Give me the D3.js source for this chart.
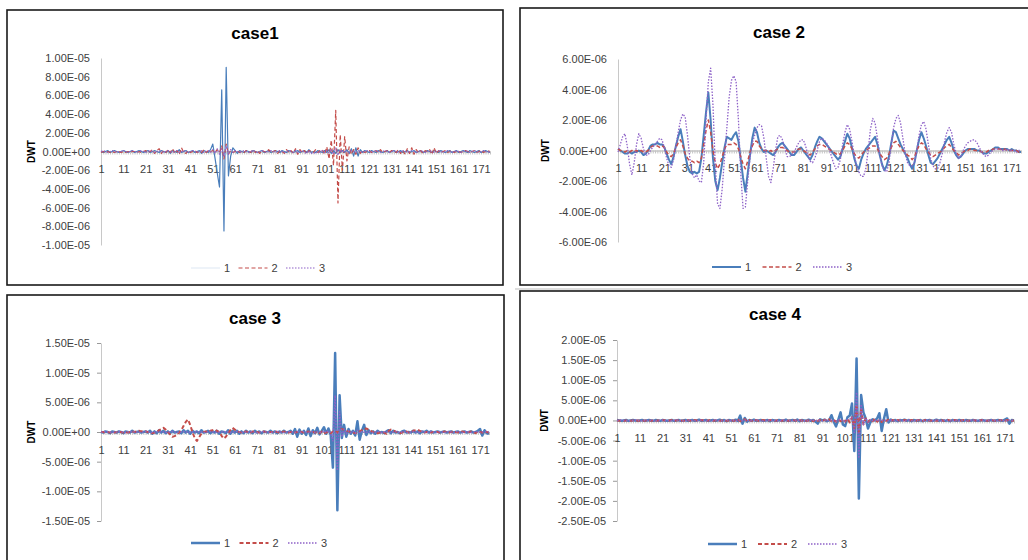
<!DOCTYPE html>
<html>
<head>
<meta charset="utf-8">
<script src="https://cdn.jsdelivr.net/npm/d3@7"></script>
<style>
  body { margin: 0; background: #fff; }
  svg { display: block; font-family: "Liberation Sans", Arial, sans-serif; }
</style>
</head>
<body>
<svg id="chart" width="1028" height="560"></svg>
<script>
// values are stored in units of 1e-7
const UNIT = 1e-7;
const categories = d3.range(1, 176);
const xLabels = categories.filter(d => d % 10 === 1);
const seriesNames = ["1", "2", "3"];
const colors = ["#4a7ebb", "#c44d4a", "#8e62c8"];

// case 1
const c1s1 = [
  0,-1,0,1,-1,0,1,0,-1,0,
  1,0,-1,0,1,-1,0,1,0,-1,
  0,1,-1,0,1,0,-1,1,0,-1,
  1,-2,1,0,-1,2,-1,0,1,-1,
  0,1,-1,0,1,-2,1,0,-1,2,
  8,-7,-23,-38,66,-85,90,-26,-5,4,
  1,-2,1,0,-1,1,0,-1,1,0,
  -1,0,1,-1,0,1,-1,0,1,0,
  -1,1,0,-1,1,0,-1,0,1,-1,
  0,1,-1,2,-1,0,-1,1,0,-1,
  1,-1,2,-2,1,-2,2,-1,1,-1,
  2,-2,3,-5,4,-5,2,-1,1,0,
  -1,1,0,-1,1,0,-1,0,1,-1,
  0,1,-1,0,1,-1,0,1,-1,0,
  1,-1,0,1,-1,0,1,0,-1,1,
  0,-1,1,0,-1,0,1,-1,0,1,
  -1,0,1,0,-1,1,0,-1,0,1,
  -1,0,1,0,-1
];
const c1s2 = [
  -1,0,-1,0,-1,0,-1,0,0,-1,
  0,-1,0,-1,0,0,-1,0,-1,0,
  1,-1,0,2,-2,1,3,-2,1,-1,
  2,-1,3,-2,1,-3,4,-1,-2,1,
  -1,0,1,-1,0,-1,2,-1,1,0,
  1,-1,2,-1,6,-8,8,-3,1,-1,
  0,1,-1,0,-1,1,0,-1,2,-1,
  1,-2,1,0,-1,2,-1,0,1,-2,
  1,0,-2,2,-1,1,-2,3,-3,2,
  -1,1,-2,1,0,-1,2,-1,1,2,
  -3,5,-8,12,-15,44,-55,18,-20,16,
  -10,5,-3,2,-3,4,-2,1,-1,0,
  1,-1,0,1,-1,2,-1,0,1,-1,
  1,0,-1,2,-2,1,-3,3,-2,4,
  -3,2,-1,1,-2,1,0,2,-3,4,
  -2,1,-1,0,1,-1,0,1,-1,0,
  0,-1,0,1,0,-1,0,1,-1,0,
  1,-1,0,1,0
];
const c1s3 = [
  0,1,0,-1,0,1,0,-1,0,0,
  1,0,-1,0,1,0,-1,0,1,0,
  -1,0,1,0,-1,0,1,0,-1,0,
  1,0,-1,0,1,-1,0,1,0,-1,
  0,1,0,-1,0,1,-1,0,1,-1,
  2,-2,3,-3,3,-5,6,-3,2,-1,
  1,0,-1,0,1,0,-1,0,1,0,
  -1,0,1,0,-1,0,1,0,-1,0,
  1,0,-1,0,1,0,-1,1,-1,0,
  1,-1,-2,1,-2,-1,-2,0,-1,1,
  -1,1,-2,2,-3,4,-4,2,-1,1,
  0,-1,1,0,-1,1,0,-1,0,1,
  0,-1,0,1,0,-1,0,1,0,-1,
  0,1,0,-1,0,1,0,-1,0,1,
  0,-1,0,1,0,-1,0,1,0,-1,
  0,1,0,-1,0,1,0,-1,0,1,
  0,-1,0,1,0,-1,0,1,0,-1,
  0,1,0,-1,0
];

// case 2
const c2s1 = [
  1,0,-1,-2,-2,-1,-2,-1,-1,0,
  -1,-3,-2,0,3,4,4,5,4,4,
  2,-2,-6,-9,-4,3,9,14,6,-3,
  -10,-14,-15,-14,-15,-14,-5,10,25,38,
  20,-5,-20,-26,-18,-8,2,9,8,7,
  10,12,6,-6,-18,-27,-15,-3,8,15,
  12,5,1,-1,0,-1,-2,-3,-1,2,
  4,5,3,1,-1,-3,-3,-1,1,2,
  0,-2,-4,-6,-3,2,6,9,8,6,
  4,2,0,-2,-4,-6,-4,1,6,11,
  8,2,-5,-10,-12,-6,-2,1,3,5,
  7,9,4,-3,-9,-13,-10,-4,5,13,
  12,8,4,1,-2,-5,-9,-12,-8,0,
  7,12,8,3,-3,-8,-9,-7,-5,-2,
  1,4,7,9,5,0,-3,-5,-4,-2,
  0,1,1,1,1,0,0,-1,-2,-2,
  -1,0,1,2,2,1,1,1,1,0,
  1,0,0,-1,-1
];
const c2s2 = [
  1,0,0,-1,0,-1,0,-1,0,-1,
  0,-1,-1,0,2,3,3,3,2,3,
  2,-1,-3,-4,-2,2,5,7,3,-2,
  -5,-7,-7,-8,-7,-8,-5,4,13,20,
  12,0,-8,-12,-9,-4,1,4,4,4,
  5,4,1,-4,-9,-12,-7,-1,3,6,
  6,3,1,0,0,-1,0,-1,0,1,
  2,2,1,0,-1,-1,-1,0,1,1,
  0,-1,-2,-3,-1,1,3,4,4,3,
  2,1,0,-1,-2,-3,-2,0,3,5,
  4,1,-2,-4,-5,-3,-1,0,1,2,
  3,3,1,-2,-4,-6,-5,-2,2,5,
  6,4,2,0,-1,-3,-4,-6,-4,0,
  3,5,4,1,-1,-3,-4,-3,-2,-1,
  0,2,3,4,2,0,-1,-3,-2,-1,
  0,0,1,1,0,0,0,-1,-1,-1,
  0,0,1,1,1,1,0,1,0,0,
  0,0,0,-1,0
];
const c2s3 = [
  -1,4,9,11,3,-9,-16,-8,4,11,
  8,1,-3,-3,0,2,4,6,8,7,
  2,-5,-10,-11,-6,3,12,20,24,22,
  10,-5,-15,-18,-16,-20,-21,-8,20,45,
  54,30,-10,-35,-38,-25,-5,15,35,46,
  49,45,20,-15,-38,-37,-20,-5,5,10,
  15,17,16,8,-5,-17,-21,-12,0,9,
  10,7,2,-4,-4,-3,-1,2,5,7,
  7,3,-3,-7,-8,-5,0,6,8,7,
  5,2,-3,-8,-12,-11,-6,4,12,17,
  14,6,-3,-10,-14,-17,-17,-12,0,14,
  21,18,8,-2,-10,-13,-14,-8,4,15,
  21,23,18,8,-2,-8,-10,-10,-8,0,
  10,17,19,14,4,-5,-10,-12,-12,-8,
  -2,6,12,15,12,4,-2,-5,-4,0,
  3,5,6,7,7,5,2,-1,-3,-4,
  -3,-1,0,1,1,1,0,0,1,0,
  0,0,-1,0,0
];

// case 3
const c3s1 = [
  0,-1,1,0,-2,1,0,-1,1,0,
  -2,1,0,-1,2,-1,0,1,-1,0,
  1,-1,2,-3,1,-2,3,-1,2,-2,
  1,-2,2,-1,0,1,-2,3,-1,2,
  -3,2,-1,1,-2,3,-1,0,2,-2,
  1,-1,2,-3,1,0,-2,3,-3,2,
  -1,2,-3,1,-2,2,-1,1,-2,2,
  -1,1,-2,1,0,-1,2,-1,1,-2,
  1,-1,2,-1,0,2,-3,5,-8,4,
  -3,2,-5,6,-7,3,-2,7,-4,2,
  8,-3,6,-5,-60,133,-132,62,-10,12,
  -8,5,-3,2,-6,18,-13,2,12,-5,
  3,-2,1,-3,2,-1,0,-2,1,3,
  -2,2,-1,0,-2,1,2,-1,0,-1,
  2,-1,1,-2,1,0,2,-1,1,-1,
  0,1,-1,0,1,-1,0,1,-1,0,
  1,-1,0,1,-1,0,1,-1,0,2,
  5,-6,3,-2,-3
];
const c3s2 = [
  0,0,-1,0,-1,0,-1,0,-1,0,
  -1,0,-1,0,1,0,1,2,1,2,
  1,0,-1,-2,-1,0,3,5,7,4,
  0,-4,-8,-7,-5,-1,3,10,17,21,
  12,0,-10,-15,-9,-3,0,1,0,2,
  3,4,2,0,-6,-11,-8,-2,3,7,
  4,1,0,-1,0,1,0,-1,1,0,
  0,-1,0,1,0,-1,0,0,1,0,
  -1,0,1,0,-1,0,1,-1,0,1,
  0,-1,0,1,-1,0,-1,0,-2,1,
  -2,-1,0,-2,1,2,-1,3,5,4,
  2,1,0,-1,-2,-1,1,3,5,6,
  4,2,0,-1,-2,-1,0,-1,-3,2,
  4,3,1,-1,-2,-1,0,1,-1,0,
  2,3,4,2,0,-1,0,1,-1,0,
  1,0,-1,0,1,0,-1,0,1,0,
  -1,0,1,0,-1,0,1,0,-2,1,
  0,-1,1,0,-1
];
const c3s3 = [
  0,0,1,0,0,-1,0,0,1,0,
  0,-1,0,0,1,0,0,-1,0,0,
  1,0,0,-1,0,0,1,0,0,-1,
  0,0,1,0,0,-1,0,1,0,0,
  -1,0,0,1,0,0,-1,0,0,1,
  0,0,-1,0,0,1,0,0,-1,0,
  0,1,0,0,-1,0,0,1,0,0,
  -1,0,0,1,0,0,-1,0,0,1,
  0,0,-1,0,0,1,0,-1,1,0,
  -1,1,0,-1,1,0,-1,1,0,-1,
  2,-1,2,-2,-15,62,-65,34,-8,5,
  -3,2,-1,1,-2,3,-2,1,0,-1,
  1,0,-1,0,1,0,-1,0,1,0,
  -1,0,1,0,-1,0,1,0,-1,0,
  1,0,-1,0,1,0,-1,0,1,0,
  -1,0,1,0,-1,0,1,0,-1,0,
  1,0,-1,0,1,0,-1,0,1,0,
  -1,0,1,0,0
];

// case 4
const c4s1 = [
  1,0,-1,0,1,-1,0,1,0,-1,
  0,1,-1,0,1,0,-1,1,0,-1,
  1,0,-1,0,1,-1,0,1,-1,0,
  1,-1,0,1,-1,0,2,-1,0,1,
  -1,0,1,-1,0,2,-1,1,-2,1,
  0,-1,2,-1,12,-8,6,-3,1,-1,
  2,-1,0,1,-1,0,1,-2,1,0,
  -1,1,0,-1,2,-1,0,1,-1,2,
  -2,1,0,-1,2,-1,1,-3,-8,3,
  0,2,-2,1,13,-3,-15,2,20,-10,
  -14,8,12,42,-76,154,-194,63,20,5,
  -20,-5,3,0,5,18,-26,4,28,-5,
  2,-1,1,-2,1,0,2,-1,1,-2,
  1,0,-1,1,-2,1,0,1,-1,0,
  2,-1,1,0,-1,1,-2,1,0,-1,
  1,0,-1,1,0,-1,1,0,-1,0,
  1,0,-1,0,1,-1,0,1,0,-1,
  2,5,-8,1,0
];
const c4s2 = [
  0,-1,0,-1,0,0,-1,0,-1,0,
  -1,0,-1,0,0,-1,0,-1,0,0,
  1,0,-1,0,1,-1,0,1,0,-1,
  0,1,-1,0,1,0,-1,1,0,-1,
  0,1,-1,0,1,-1,0,1,-1,0,
  1,-1,0,2,-2,1,3,-2,1,-1,
  0,1,-1,0,1,0,-1,1,0,-1,
  0,1,-1,0,1,-1,0,1,0,-1,
  1,-1,2,-1,0,1,-2,2,-1,1,
  -2,2,-1,3,-2,1,-3,2,-2,3,
  -3,4,-5,8,-20,40,-30,30,-10,5,
  -4,3,-2,4,-3,2,-4,3,-1,2,
  -1,1,-2,1,0,-1,1,0,-1,1,
  0,-1,1,0,-1,1,0,-1,0,1,
  -1,0,1,-1,0,1,0,-1,1,0,
  -1,0,1,0,-1,0,1,0,-1,0,
  1,0,-1,0,1,0,-1,0,1,0,
  -1,1,0,-1,0
];
const c4s3 = [
  0,0,1,0,0,-1,0,0,1,0,
  0,-1,0,0,1,0,0,-1,0,0,
  1,0,0,-1,0,0,1,0,0,-1,
  0,0,1,0,0,-1,0,1,0,0,
  -1,0,0,1,0,0,-1,0,0,1,
  0,0,-1,0,1,-1,1,0,-1,0,
  0,1,0,0,-1,0,0,1,0,0,
  -1,0,0,1,0,0,-1,0,0,1,
  0,0,-1,0,0,1,0,-1,1,0,
  -1,1,0,-1,2,-1,-2,1,2,-1,
  -2,2,3,8,-30,70,-94,40,-10,6,
  -4,2,-1,1,-2,3,-2,1,0,-1,
  1,0,-1,0,1,0,-1,0,1,0,
  -1,0,1,0,-1,0,1,0,-1,0,
  1,0,-1,0,1,0,-1,0,1,0,
  -1,0,1,0,-1,0,1,0,-1,0,
  1,0,-1,0,1,0,-1,0,1,0,
  -1,0,1,0,0
];

// tick values of the value axes
const yTicks1 = [-1e-5, -8e-6, -6e-6, -4e-6, -2e-6, 0, 2e-6, 4e-6, 6e-6, 8e-6, 1e-5];
const yTicks2 = [-6e-6, -4e-6, -2e-6, 0, 2e-6, 4e-6, 6e-6];
const yTicks3 = [-1.5e-5, -1e-5, -5e-6, 0, 5e-6, 1e-5, 1.5e-5];
const yTicks4 = [-2.5e-5, -2e-5, -1.5e-5, -1e-5, -5e-6, 0, 5e-6, 1e-5, 1.5e-5, 2e-5];

const panels = [
  { title: "case1", series: [c1s1, c1s2, c1s3], ticks: yTicks1,
    box: [7, 10, 503, 285], titleX: 255, titleY: 39,
    x0: 101, x1: 490, yTop: 58, yBot: 245, tickSize: 0, dwtX: 31,
    legendX: 191, legendY: 268, legendStep: 47.5, widths: [1.2, 1.2, 1.2], faint: true },
  { title: "case 2", series: [c2s1, c2s2, c2s3], ticks: yTicks2,
    box: [520, 8, 1040, 285], titleX: 779, titleY: 38,
    x0: 618, x1: 1021, yTop: 59, yBot: 242, tickSize: 0, dwtX: 545,
    legendX: 712, legendY: 267, legendStep: 50.5, widths: [2, 1.5, 1.3] },
  { title: "case 3", series: [c3s1, c3s2, c3s3], ticks: yTicks3,
    box: [7, 295, 504, 575], titleX: 255, titleY: 324,
    x0: 101, x1: 489, yTop: 343, yBot: 521, tickSize: 4, dwtX: 31,
    legendX: 191, legendY: 543, legendStep: 48.5, widths: [2.5, 2, 1.5] },
  { title: "case 4", series: [c4s1, c4s2, c4s3], ticks: yTicks4,
    box: [520, 291, 1040, 575], titleX: 775, titleY: 320,
    x0: 617, x1: 1014, yTop: 340, yBot: 521, tickSize: 4, dwtX: 544,
    legendX: 708, legendY: 544, legendStep: 50, widths: [2.5, 2, 1.5] }
];

// Excel style scientific label, e.g. -2.00E-06
function sci(v) {
  if (v === 0) return "0.00E+00";
  const e = Math.floor(Math.log10(Math.abs(v)) + 1e-9);
  const m = v / Math.pow(10, e);
  return m.toFixed(2) + "E" + (e < 0 ? "-" : "+") + String(Math.abs(e)).padStart(2, "0");
}

const dashes = [null, "4,2.5", "1.5,1.5"];
const svg = d3.select("#chart");

// thin grey line under case 2
svg.append("line").attr("x1", 515).attr("x2", 1028).attr("y1", 289).attr("y2", 289)
  .attr("stroke", "#bbb").attr("stroke-width", 1);

panels.forEach(function(p) {
  let g = svg.append("g");
  let b = p.box;

  g.append("rect")
    .attr("x", b[0]).attr("y", b[1])
    .attr("width", b[2] - b[0]).attr("height", b[3] - b[1])
    .attr("fill", "#fff").attr("stroke", "#1a1a1a").attr("stroke-width", 1.6);

  let x = d3.scalePoint().domain(categories).range([p.x0, p.x1]);
  let y = d3.scaleLinear()
    .domain([p.ticks[0], p.ticks[p.ticks.length - 1]])
    .range([p.yBot, p.yTop]);

  // value axis
  let ya = g.append("g")
    .attr("transform", `translate(${p.x0},0)`)
    .call(d3.axisLeft(y).tickValues(p.ticks).tickFormat(sci)
      .tickSize(p.tickSize).tickSizeOuter(0).tickPadding(11 - p.tickSize));
  ya.select(".domain").attr("stroke", "#c8c8c8");
  ya.selectAll(".tick line").attr("stroke", "#999");
  ya.selectAll("text").attr("font-size", 11).attr("fill", "#404040")
    .attr("font-family", "Liberation Sans, Arial, sans-serif");

  // category axis at zero
  let xa = g.append("g")
    .attr("transform", `translate(0,${y(0)})`)
    .call(d3.axisBottom(x).tickValues(categories).tickFormat("").tickSize(3).tickSizeOuter(0));
  xa.select(".domain").attr("stroke", "#a6a6a6");
  xa.selectAll(".tick line").attr("stroke", "#c4c4c4");

  let xl = g.append("g")
    .attr("transform", `translate(0,${y(0)})`)
    .call(d3.axisBottom(x).tickValues(xLabels).tickSize(0).tickPadding(14));
  xl.select(".domain").remove();
  xl.selectAll("text").attr("font-size", 11).attr("fill", "#404040")
    .attr("font-family", "Liberation Sans, Arial, sans-serif");

  // series
  let line = d3.line()
    .x((d, i) => x(categories[i]))
    .y(d => y(d * UNIT));

  p.series.forEach(function(s, k) {
    g.append("path")
      .datum(s.slice(0, categories.length))
      .attr("d", line)
      .attr("fill", "none")
      .attr("stroke", colors[k])
      .attr("stroke-width", p.widths[k])
      .attr("stroke-linejoin", "round")
      .attr("stroke-dasharray", dashes[k]);
  });

  // title
  g.append("text")
    .attr("x", p.titleX).attr("y", p.titleY)
    .attr("text-anchor", "middle")
    .attr("font-size", 17).attr("font-weight", "bold")
    .text(p.title);

  // axis title
  g.append("text")
    .attr("transform", `translate(${p.dwtX},${y(0)}) rotate(-90)`)
    .attr("text-anchor", "middle").attr("dy", "0.35em")
    .attr("font-size", 10).attr("font-weight", "bold")
    .text("DWT");

  // legend
  seriesNames.forEach(function(name, k) {
    let lx = p.legendX + k * p.legendStep;
    g.append("line")
      .attr("x1", lx).attr("x2", lx + 29)
      .attr("y1", p.legendY).attr("y2", p.legendY)
      .attr("stroke", (p.faint && k === 0) ? "#e3ebf5" : colors[k])
      .attr("stroke-width", p.widths[k])
      .attr("stroke-dasharray", dashes[k]);
    g.append("text")
      .attr("x", lx + 33).attr("y", p.legendY).attr("dy", "0.35em")
      .attr("font-size", 11).attr("fill", "#404040")
      .text(name);
  });
});
</script>
</body>
</html>
